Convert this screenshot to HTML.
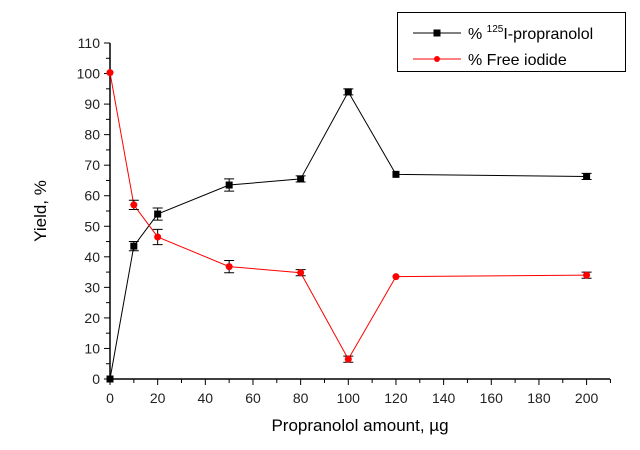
<!DOCTYPE html>
<html><head><meta charset="utf-8"><style>
body{margin:0;background:#fff;width:640px;height:445px;overflow:hidden}
svg text{font-family:"Liberation Sans",Arial,sans-serif}
</style></head><body>
<svg id="c" width="640" height="445"></svg>
<script>
const xValues=[0,10,20,50,80,100,120,200];
const propranolol=[0,43.5,54,63.5,65.5,94,67,66.3];
const propErr=[0.5,1.5,2,2,1,1,0.5,1];
const iodide=[100.3,57,46.5,36.8,34.8,6.5,33.5,34];
const iodErr=[0.5,1.5,2.5,2,1,1,0.5,1];
const xTicks=[0,20,40,60,80,100,120,140,160,180,200];
const yTicks=[0,10,20,30,40,50,60,70,80,90,100,110];
const NS='http://www.w3.org/2000/svg';
const svg=document.getElementById('c');
const X=v=>110+v*2.383, Y=v=>379-v*3.0545;
function mk(t,a,p){const e=document.createElementNS(NS,t);for(const k in a)e.setAttribute(k,a[k]);(p||svg).appendChild(e);return e;}
const ax=mk('g',{});


mk('line',{x1:110,y1:Y(0),x2:610,y2:Y(0),stroke:'#000','stroke-width':1.5},ax);
mk('line',{x1:110,y1:Y(0),x2:110,y2:Y(110),stroke:'#000','stroke-width':1.5},ax);
for(let v=0;v<=210;v+=10){mk('line',{x1:X(v),y1:379,x2:X(v),y2:v%20?383:385,stroke:'#000'},ax);}
for(let v=0;v<=110;v+=5){mk('line',{x1:110,y1:Y(v),x2:v%10?106:104,y2:Y(v),stroke:'#000'},ax);}
xTicks.forEach(v=>{const t=mk('text',{x:X(v),y:403,'text-anchor':'middle','font-size':14,fill:'#222'},ax);t.textContent=v;
});
yTicks.forEach(v=>{const t=mk('text',{x:100,y:Y(v)+5,'text-anchor':'end','font-size':14,fill:'#222'},ax);t.textContent=v;
});
const xt=mk('text',{x:360,y:431,'text-anchor':'middle','font-size':17});xt.textContent='Propranolol amount, µg';

const yt=mk('text',{x:46,y:211,'text-anchor':'middle','font-size':17,transform:'rotate(-90 46 211)'});yt.textContent='Yield, %';

function series(vals,errs,color,shape,name){
 const g=mk('g',{});
 
 
 mk('polyline',{points:vals.map((v,i)=>X(xValues[i])+','+Y(v)).join(' '),fill:'none',stroke:color,'stroke-width':1},g);
 vals.forEach((v,i)=>{const x=X(xValues[i]);
  if(errs[i]>0.6){mk('path',{d:`M${x-5},${Y(v+errs[i])}H${x+5}M${x},${Y(v+errs[i])}V${Y(v-errs[i])}M${x-5},${Y(v-errs[i])}H${x+5}`,stroke:'#000',fill:'none'},g);}
  const m=shape==='sq'?mk('rect',{x:x-3.5,y:Y(v)-3.5,width:7,height:7,fill:color},g):mk('circle',{cx:x,cy:Y(v),r:3.5,fill:color},g);
  });
}
series(propranolol,propErr,'#000','sq','propranolol-series');
series(iodide,iodErr,'#f00','ci','free-iodide-series');
const lg=mk('g',{});


mk('rect',{x:397.5,y:12.5,width:228,height:59,fill:'#fff',stroke:'#000'},lg);
mk('line',{x1:413,y1:33,x2:461,y2:33,stroke:'#000'},lg);
mk('rect',{x:433.5,y:29.5,width:7,height:7,fill:'#000'},lg);
mk('line',{x1:413,y1:59,x2:461,y2:59,stroke:'#f00'},lg);
mk('circle',{cx:437,cy:59,r:3,fill:'#f00'},lg);
const l1=mk('text',{x:468,y:39,'font-size':16},lg);
l1.innerHTML='% <tspan font-size="10" dy="-7">125</tspan><tspan dy="7">I-propranolol</tspan>';

const l2=mk('text',{x:468,y:65,'font-size':16},lg);l2.textContent='% Free iodide';

</script>
</body></html>
